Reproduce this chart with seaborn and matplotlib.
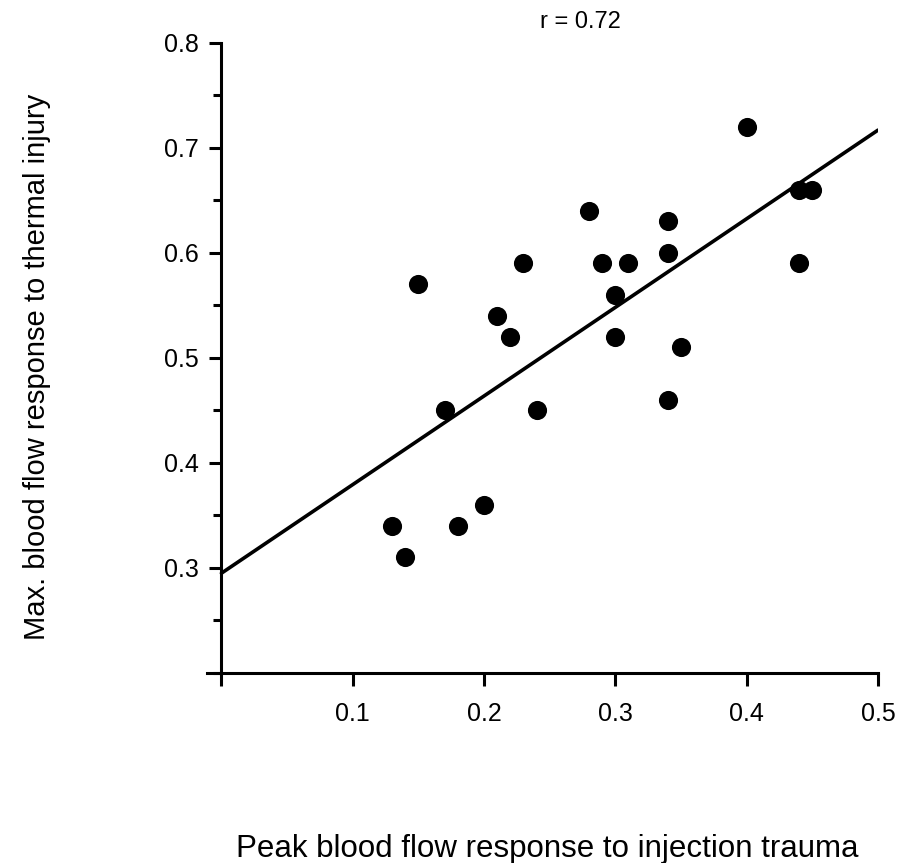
import matplotlib
matplotlib.use("Agg")
import matplotlib.pyplot as plt
import seaborn as sns
import pandas as pd
from matplotlib.ticker import MultipleLocator

sns.set_theme(style="white")
plt.rcParams['font.family'] = ['Liberation Sans', 'DejaVu Sans']

peak_injection = [0.13, 0.14, 0.15, 0.17, 0.18, 0.20, 0.21, 0.22, 0.23, 0.24,
                  0.28, 0.29, 0.30, 0.30, 0.31, 0.34, 0.34, 0.35, 0.34, 0.40,
                  0.44, 0.45, 0.44]
max_thermal = [0.34, 0.31, 0.57, 0.45, 0.34, 0.36, 0.54, 0.52, 0.59, 0.45,
               0.64, 0.59, 0.56, 0.52, 0.59, 0.63, 0.60, 0.51, 0.46, 0.72,
               0.66, 0.66, 0.59]
fit_x = [0.0, 0.5]
fit_y = [0.295, 0.717]
x_ticks = [0.0, 0.1, 0.2, 0.3, 0.4, 0.5]
x_ticklabels = ["", "0.1", "0.2", "0.3", "0.4", "0.5"]
y_ticks = [0.3, 0.4, 0.5, 0.6, 0.7, 0.8]
y_ticklabels = ["0.3", "0.4", "0.5", "0.6", "0.7", "0.8"]

df = pd.DataFrame({"x": peak_injection, "y": max_thermal})
fit = pd.DataFrame({"x": fit_x, "y": fit_y})

fig = plt.figure(figsize=(8.98, 8.63), dpi=100)
ax = fig.add_axes([0.2305, 0.2202, 0.9777 - 0.2305, 0.9502 - 0.2202])

sns.lineplot(data=fit, x="x", y="y", ax=ax, color="black", linewidth=2.6)
sns.scatterplot(data=df, x="x", y="y", ax=ax, color="black", s=190,
                edgecolor="black", linewidth=0, zorder=3)

ax.set_xlim(-0.011, 0.5)
ax.set_ylim(0.2, 0.8)
ax.spines['top'].set_visible(False)
ax.spines['right'].set_visible(False)
ax.spines['left'].set_position(('data', 0.0))
for sp in ('left', 'bottom'):
    ax.spines[sp].set_linewidth(2.2)
    ax.spines[sp].set_color('black')

ax.set_xticks(x_ticks)
ax.set_xticklabels(x_ticklabels)
ax.set_yticks(y_ticks)
ax.set_yticklabels(y_ticklabels)
ax.yaxis.set_minor_locator(MultipleLocator(0.05))
ax.tick_params(axis='both', which='major', direction='out', length=9, width=2.2,
               color='black', labelsize=18, labelcolor='black',
               bottom=True, left=True)
ax.tick_params(axis='x', which='major', pad=12)
ax.tick_params(axis='y', which='major', pad=7)
ax.tick_params(axis='y', which='minor', direction='out', length=6, width=2.2,
               color='black', left=True)

ax.set_xlabel("Peak blood flow response to injection trauma", fontsize=22.5, color='black')
ax.set_ylabel("Max. blood flow response to thermal injury", fontsize=21, color='black')
ax.xaxis.set_label_coords(0.507, -0.255)
ax.yaxis.set_label_coords(-0.232, 0.486)
ax.text(0.556, 1.033, "r = 0.72", transform=ax.transAxes, ha='center', va='center',
        fontsize=17, color='black')

fig.savefig("out.png", dpi=100, facecolor='white')
